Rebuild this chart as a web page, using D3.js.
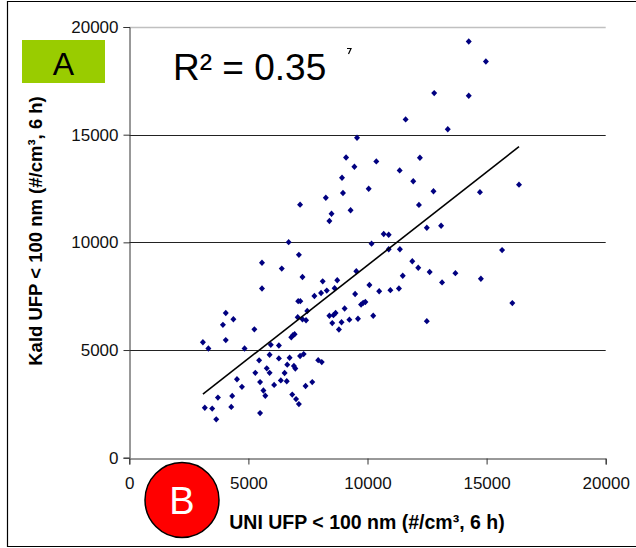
<!DOCTYPE html>
<html>
<head>
<meta charset="utf-8">
<script src="https://cdn.jsdelivr.net/npm/d3@7"></script>
<style>
  body { margin: 0; background: #fff; }
  svg { display: block; font-family: "Liberation Sans", Arial, sans-serif; }
</style>
</head>
<body>
<div id="chart"></div>
<script>
// UNI (x) og Kald (y) UFP < 100 nm, #/cm3, 6 h
const uniUfp = [
  14250, 14970, 12800, 14250, 11600, 13370, 9560, 9100, 9450, 10370,
  12200, 11350, 8930, 11920, 8970, 10050, 12770, 14720, 16360, 8250,
  7170, 12160, 8490, 9290, 8400, 12490, 13090, 10680, 10890, 6690,
  10170, 10890, 11360, 15650, 7120, 11880, 5570, 12130, 6400, 9530,
  12610, 13690, 11480, 7270, 14760, 13130, 8730, 8120, 10080, 5570,
  8620, 8290, 10490, 10960, 8050, 11320, 9480, 7770, 7090, 7180,
  16080, 9730, 9820, 9910, 7470, 9040, 4050, 7070, 7270, 7420,
  4370, 8400, 8570, 8660, 9600, 9240, 10240, 8520, 8910, 12490,
  3930, 5250, 8800, 6800, 6870, 6940, 3090, 4050, 5940, 6280,
  3320, 4840, 7170, 7320, 7930, 8080, 5890, 5450, 6280, 6730,
  6630, 6910, 6970, 5770, 5890, 5290, 6520, 4520, 5490, 6360,
  6610, 4730, 6080, 7400, 7680, 5630, 5710, 3720, 4320, 6840,
  7000, 7120, 3170, 3480, 4280, 5490, 3650
];
const kaldUfp = [
  19330, 18400, 16930, 16810, 15710, 15250, 14860, 13940, 13510, 13760,
  13930, 13340, 13000, 12840, 12290, 12490, 12370, 12330, 12680, 12070,
  11750, 11740, 11330, 11490, 10990, 10680, 10770, 10390, 10350, 10010,
  9940, 9680, 9680, 9640, 9420, 9120, 9050, 8820, 8780, 8660,
  8620, 8570, 8450, 8390, 8310, 8140, 8240, 8190, 8020, 7860,
  7870, 7760, 7730, 7780, 7650, 7860, 7600, 7510, 7270, 7270,
  7180, 7110, 7190, 7230, 6810, 6930, 6720, 6520, 6430, 6380,
  6430, 6590, 6620, 6720, 6450, 6410, 6590, 6250, 6290, 6340,
  6170, 5960, 5950, 5590, 5690, 5730, 5360, 5460, 5240, 5210,
  5070, 5070, 4720, 4810, 4530, 4440, 4780, 4520, 4610, 4640,
  4320, 4260, 4140, 4150, 3940, 3940, 3930, 3640, 3510, 3590,
  3550, 3290, 3380, 3330, 3510, 3120, 2880, 2790, 2870, 2930,
  2720, 2490, 2320, 2280, 2360, 2070, 1780
];
const xTicks = [0, 5000, 10000, 15000, 20000];
const yTicks = [0, 5000, 10000, 15000, 20000];
const xTitle = "UNI UFP < 100 nm (#/cm³, 6 h)";
const yTitle = "Kald UFP < 100 nm (#/cm³, 6 h)";
const r2Label = "R² = 0.35";

const width = 636, height = 548;
const svg = d3.select("#chart").append("svg").attr("width", width).attr("height", height);

// ramme rundt om figuren
svg.append("path")
  .attr("d", "M640,1.5 H7.5 V546.5 H640")
  .attr("fill", "none").attr("stroke", "#000").attr("stroke-width", 1.2);

const x = d3.scaleLinear().domain([0, 20000]).range([129.3, 605.7]);
const y = d3.scaleLinear().domain([0, 20000]).range([457.7, 27]);

// gitterlinjer
svg.append("g").selectAll("line").data(yTicks.filter(t => t > 0)).enter().append("line")
  .attr("x1", x(0)).attr("x2", x(20000))
  .attr("y1", d => Math.round(y(d)) + 0.5).attr("y2", d => Math.round(y(d)) + 0.5)
  .attr("stroke", d => d === 20000 ? "#c0c0c0" : "#222")
  .attr("stroke-width", d => d === 20000 ? 1.6 : 1);

// akser
const yAxis = d3.axisLeft(y).tickValues(yTicks).tickSize(6).tickPadding(5).tickFormat(d3.format("d"));
const gy = svg.append("g").attr("transform", `translate(${Math.round(x(0)) + 0.5},0)`).call(yAxis);
gy.select(".domain").attr("stroke", "#333");
gy.selectAll(".tick line").attr("stroke", "#333");
gy.selectAll(".tick text").attr("font-size", 17).attr("fill", "#111").attr("font-family", "Liberation Sans, Arial, sans-serif");

const xAxis = d3.axisBottom(x).tickValues(xTicks).tickSize(6).tickPadding(12).tickFormat(d3.format("d"));
const gx = svg.append("g").attr("transform", `translate(0,${Math.round(y(0)) + 0.5})`).call(xAxis);
gx.select(".domain").attr("stroke", "#333");
gx.selectAll(".tick line").attr("stroke", "#333");
gx.selectAll(".tick text").attr("font-size", 17).attr("fill", "#111").attr("font-family", "Liberation Sans, Arial, sans-serif");

// punkter
const punkter = uniUfp.map((u, i) => ({ u: u, k: kaldUfp[i] }));
svg.append("g").selectAll("path").data(punkter).enter().append("path")
  .attr("d", "M0,-3.2L3,0L0,3.2L-3,0Z")
  .attr("transform", d => `translate(${x(d.u)},${y(d.k)})`)
  .attr("fill", "#000080");

// lineær tendenslinje (mindste kvadraters metode)
const mx = d3.mean(uniUfp), my = d3.mean(kaldUfp);
const sxy = d3.sum(punkter, d => (d.u - mx) * (d.k - my));
const sxx = d3.sum(punkter, d => (d.u - mx) * (d.u - mx));
const slope = sxy / sxx, intercept = my - slope * mx;
const [xmin, xmax] = d3.extent(uniUfp);
svg.append("line")
  .attr("x1", x(xmin)).attr("y1", y(intercept + slope * xmin))
  .attr("x2", x(xmax)).attr("y2", y(intercept + slope * xmax))
  .attr("stroke", "#000").attr("stroke-width", 1.6);

// R²
svg.append("text").attr("x", 173).attr("y", 80)
  .attr("font-size", 37).attr("fill", "#000").text(r2Label);
svg.append("path").attr("d", "M347,48.5 H351 L348.5,54")
  .attr("fill", "none").attr("stroke", "#000").attr("stroke-width", 1.2);

// aksetitler
svg.append("text").attr("x", 367).attr("y", 529).attr("text-anchor", "middle")
  .attr("font-size", 19.5).attr("font-weight", "bold").text(xTitle);
svg.append("text").attr("transform", "translate(42,231) rotate(-90)").attr("text-anchor", "middle")
  .attr("font-size", 18.5).attr("font-weight", "bold").text(yTitle);

// A-mærke
svg.append("rect").attr("x", 22).attr("y", 40).attr("width", 83).attr("height", 43).attr("fill", "#99cc00");
svg.append("text").attr("x", 63.5).attr("y", 75).attr("text-anchor", "middle")
  .attr("font-size", 32).attr("fill", "#000").text("A");

// B-mærke
svg.append("ellipse").attr("cx", 182).attr("cy", 500).attr("rx", 37).attr("ry", 37.5)
  .attr("fill", "#ff0000").attr("stroke", "#000").attr("stroke-width", 1.5);
svg.append("text").attr("x", 182).attr("y", 514).attr("text-anchor", "middle")
  .attr("font-size", 38).attr("fill", "#fff").text("B");
</script>
</body>
</html>
